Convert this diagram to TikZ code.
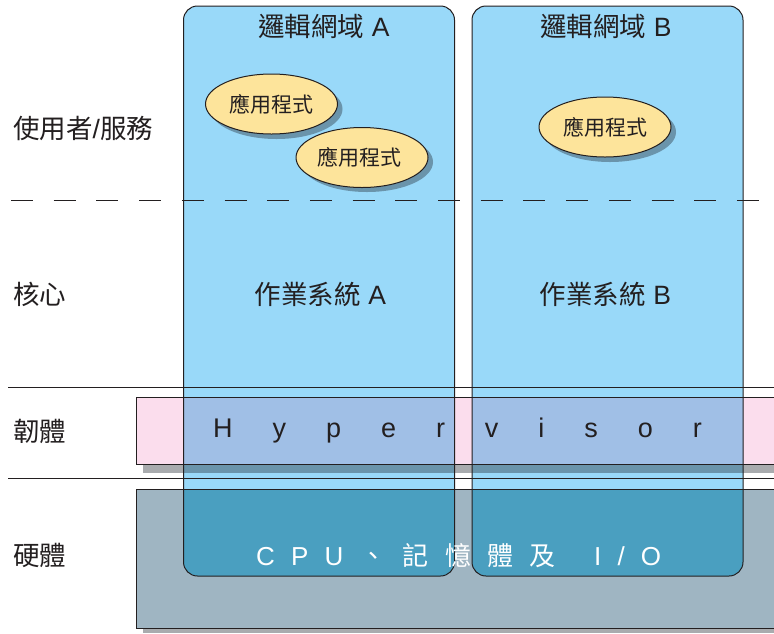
\documentclass[tikz,border=0pt]{standalone}
\usepackage{fontspec}
\setmainfont{Liberation Sans}
\newfontfamily\cjk{Noto Sans CJK TC}
\newfontfamily\tracklat[LetterSpace=148]{Liberation Sans}
\newfontfamily\tracklatb[LetterSpace=62]{Liberation Sans}
\newfontfamily\trackcjk[LetterSpace=63,Script=CJK,Language=Chinese Traditional]{Noto Sans CJK TC}
\usetikzlibrary{shapes.geometric}
\definecolor{ink}{HTML}{231F20}
\definecolor{boxblue}{HTML}{99D9F9}
\definecolor{pinkband}{HTML}{FBDDED}
\definecolor{hwgrey}{HTML}{9FB5C2}
\definecolor{shadowgrey}{HTML}{A9ABAE}
\definecolor{hvover}{HTML}{A0BFE6}
\definecolor{shover}{HTML}{6A94AB}
\definecolor{hwover}{HTML}{4A9FC0}
\definecolor{appfill}{HTML}{FDE49B}
\tikzset{
  x=1pt,y=-1pt,
  outline/.style={draw=ink,line width=1pt},
  rule/.style={draw=ink,line width=0.8pt},
  domainbox/.style={rounded corners=14pt},
  label/.style={text=ink,font=\fontsize{26.5}{30}\selectfont,anchor=base west,inner sep=0pt},
  title/.style={text=ink,font=\fontsize{26.5}{30}\selectfont,anchor=base,inner sep=0pt},
  app/.style={ellipse,draw=ink,line width=1pt,fill=appfill,minimum width=132pt,minimum height=60pt,inner sep=0pt,text=ink,font=\fontsize{21}{24}\selectfont\cjk},
  appshadow/.style={ellipse,fill=shover,minimum width=132pt,minimum height=60pt,inner sep=0pt},
}
\begin{document}
\begin{tikzpicture}
\useasboundingbox (0,0) rectangle (774,633);
\fill[white] (0,0) rectangle (774,633);
% bands and their shadows
\fill[shadowgrey] (143,405) rectangle (774,473);
\fill[shadowgrey] (143,496) rectangle (774,633);
\fill[pinkband] (136,397.5) rectangle (774,464.5);
\fill[hwgrey] (136,489) rectangle (774,628);
% logical domains
\foreach \bx in {183.5,472}{
  \fill[boxblue,domainbox] (\bx,6) rectangle (\bx+271,576);
  \begin{scope}
    \clip[domainbox] (\bx,6) rectangle (\bx+271,576);
    \fill[shover] (136,464.5) rectangle (774,473);
    \fill[hvover] (136,397.5) rectangle (774,464.5);
    \fill[hwover] (136,489) rectangle (774,628);
  \end{scope}
}
% rules
\coordinate (r1a) at (8,387);   \coordinate (r1b) at (774,387);
\coordinate (r2a) at (8,478);   \coordinate (r2b) at (774,478);
\coordinate (d1) at (11,200);   \coordinate (d2) at (761,200);
\draw[rule] (r1a) -- (r1b);
\draw[rule] (r2a) -- (r2b);
\draw[rule,dash pattern=on 22pt off 20.7pt] (d1) -- (d2);
% outlines
\draw[outline] (136,397.5) rectangle (780,464.5);
\draw[outline] (136,489) rectangle (780,628);
\foreach \bx in {183.5,472}{
  \draw[outline,domainbox] (\bx,6) rectangle (\bx+271,576);
}
% applications
\node[appshadow] (s1) at (276.5,109) {};
\node[appshadow] (s2) at (367,162) {};
\node[appshadow] (s3) at (610,132) {};
\node[app] (app1) at (271.5,104) {應用程式};
\node[app] (app2) at (362,157.5) {\hspace*{-5pt}應用程式};
\node[app] (app3) at (605,127) {應用程式};
% titles
\node[title] (ta) at (324,36) {{\cjk 邏輯網域} A};
\node[title] (tb) at (606,36) {{\cjk 邏輯網域} B};
\node[title] (osa) at (320.5,304) {{\cjk 作業系統} A};
\node[title] (osb) at (605.5,304) {{\cjk 作業系統} B};
% left labels
\node[label] (l1) at (13,138) {{\cjk 使用者}/{\cjk 服務}};
\node[label] (l2) at (13,304) {\cjk 核心};
\node[label] (l3) at (13,441) {\cjk 韌體};
\node[label] (l4) at (13,565) {\cjk 硬體};
% band labels
\node[text=ink,font=\fontsize{27}{30}\selectfont\tracklat,anchor=base west,inner sep=0pt] (hv) at (213,437) {Hypervisor};
\node[text=white,font=\fontsize{26}{30}\selectfont,anchor=base west,inner sep=0pt] (hw) at (256,565) {{\tracklatb CPU}\hspace{17pt}{\trackcjk 、記憶體及}\hspace{15pt}{\tracklatb\ I/O}};
\end{tikzpicture}
\end{document}
